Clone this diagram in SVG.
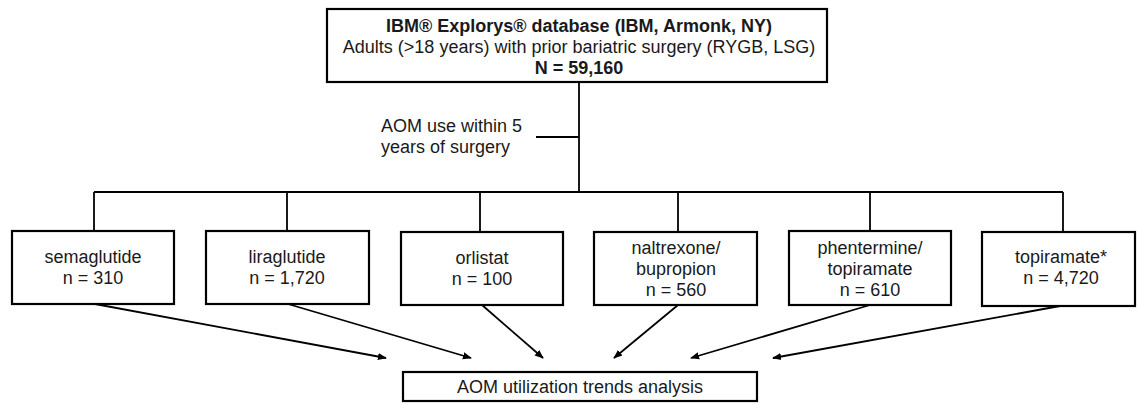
<svg xmlns="http://www.w3.org/2000/svg" width="1137" height="404" viewBox="0 0 1137 404">
<style>
.box{fill:#fff;stroke:#000;stroke-width:2.2}
.t{font-family:"Liberation Sans",Arial,sans-serif;font-size:18px;fill:#1a1a1a;text-anchor:middle}
.b{font-weight:bold}
.ln{stroke:#000;stroke-width:1.8;fill:none}
.ar{stroke:#000;stroke-width:1.8;fill:none;marker-end:url(#ah)}
</style>
<defs>
<marker id="ah" viewBox="0 0 10 10" refX="9" refY="5" markerWidth="5" markerHeight="5" orient="auto" markerUnits="strokeWidth">
<path d="M0,1 L10,5 L0,9 Z" fill="#000"/>
</marker>
</defs>
<rect width="1137" height="404" fill="#fff"/>
<g id="connectors">
<line class="ln" x1="579" y1="82" x2="579" y2="192"/>
<line class="ln" x1="536" y1="137" x2="579" y2="137"/>
<line class="ln" x1="94" y1="192" x2="1063" y2="192"/>
<line class="ln" x1="94" y1="192" x2="94" y2="231"/>
<line class="ln" x1="287" y1="192" x2="287" y2="231"/>
<line class="ln" x1="480" y1="192" x2="480" y2="232"/>
<line class="ln" x1="678" y1="192" x2="678" y2="232"/>
<line class="ln" x1="870" y1="192" x2="870" y2="231"/>
<line class="ln" x1="1063" y1="192" x2="1063" y2="232"/>
<line class="ar" x1="95" y1="304" x2="386" y2="358"/>
<line class="ar" x1="288" y1="304" x2="471" y2="358"/>
<line class="ar" x1="482" y1="305" x2="543" y2="358"/>
<line class="ar" x1="678" y1="305" x2="614" y2="358"/>
<line class="ar" x1="870" y1="305" x2="691" y2="358"/>
<line class="ar" x1="1060" y1="306" x2="773" y2="358"/>
</g>
<g id="label-aom-use">
<text class="t" style="text-anchor:start" x="381" y="132">AOM use within 5</text>
<text class="t" style="text-anchor:start" x="381" y="153">years of surgery</text>
</g>
<g id="node-database">
<rect class="box" x="327" y="9" width="500" height="73"/>
<text class="t b" x="579" y="32">IBM® Explorys® database (IBM, Armonk, NY)</text>
<text class="t" x="579" y="53">Adults (&gt;18 years) with prior bariatric surgery (RYGB, LSG)</text>
<text class="t b" x="579" y="74">N = 59,160</text>
</g>
<g id="node-semaglutide">
<rect class="box" x="12" y="231" width="162" height="73"/>
<text class="t" x="93" y="263">semaglutide</text>
<text class="t" x="93" y="284">n = 310</text>
</g>
<g id="node-liraglutide">
<rect class="box" x="206" y="231" width="163" height="73"/>
<text class="t" x="287" y="263">liraglutide</text>
<text class="t" x="287" y="284">n = 1,720</text>
</g>
<g id="node-orlistat">
<rect class="box" x="401" y="232" width="162" height="73"/>
<text class="t" x="482" y="264">orlistat</text>
<text class="t" x="482" y="285">n = 100</text>
</g>
<g id="node-naltrexone">
<rect class="box" x="594" y="232" width="163" height="73"/>
<text class="t" x="676" y="254">naltrexone/</text>
<text class="t" x="676" y="275">bupropion</text>
<text class="t" x="676" y="296">n = 560</text>
</g>
<g id="node-phentermine">
<rect class="box" x="789" y="231" width="162" height="74"/>
<text class="t" x="870" y="254">phentermine/</text>
<text class="t" x="870" y="275">topiramate</text>
<text class="t" x="870" y="296">n = 610</text>
</g>
<g id="node-topiramate">
<rect class="box" x="982" y="232" width="153" height="74"/>
<text class="t" x="1061" y="263">topiramate*</text>
<text class="t" x="1061" y="284">n = 4,720</text>
</g>
<g id="node-analysis">
<rect class="box" x="403" y="372" width="354" height="29"/>
<text class="t" x="580" y="393">AOM utilization trends analysis</text>
</g>
</svg>
